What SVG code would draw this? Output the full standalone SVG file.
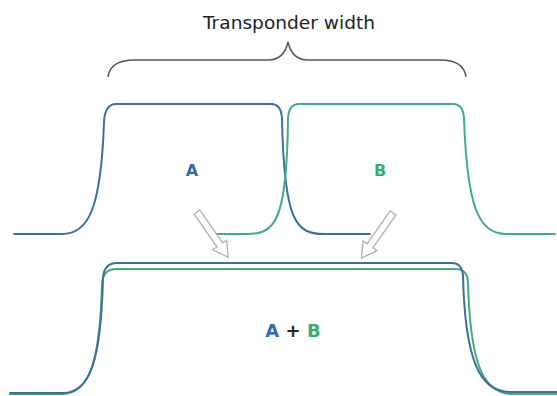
<svg xmlns="http://www.w3.org/2000/svg" width="557" height="396" viewBox="0 0 557 396">
<style>
.c{fill:none;stroke-width:2;stroke-linejoin:round;stroke-linecap:round}
.blue{stroke:#3f6f9c}
.green{stroke:#3fae7c}
.arrow{fill:#fff;stroke:#b0b0b0;stroke-width:1.3}
.lbl{font-family:"DejaVu Sans",sans-serif;font-weight:bold}
</style>
<defs>
<path id="blk" d="M0,-3.5 L40,-3.5 L40,-8.5 L55,0 L40,8.5 L40,3.5 L0,3.5 Z"/>
</defs>
<rect width="557" height="396" fill="#fff"/>
<g id="title">
<text x="289" y="29" text-anchor="middle" font-family="DejaVu Sans, sans-serif" font-size="17" textLength="172" lengthAdjust="spacingAndGlyphs" fill="#222">Transponder width</text>
</g>
<g id="brace">
<path d="M108,77 Q110,60 135,60 L268,60 Q284,60 288,42 Q292,60 308,60 L440,60 Q464,60 466,77" fill="none" stroke="#555" stroke-width="1.5"/>
</g>
<g id="curveA">
<path class="c blue" d="M14,234 L62,234 C88,234 101,210 104,122 Q105,104 116,104 L271,104 Q281,104 282,118 C284,222 296,234 324,234 L370,234"/>
<text class="lbl" x="192" y="176" text-anchor="middle" font-size="16" fill="#2e6db0">A</text>
</g>
<g id="curveB">
<path class="c green" d="M216,234 L247,234 C275,234 287,222 288,118 Q289,104 299,104 L453,104 Q463,104 464,118 C467,205 478,234 506,234 L555,234"/>
<text class="lbl" x="380" y="176" text-anchor="middle" font-size="16" fill="#3aac6e">B</text>
</g>
<g id="sum">
<path class="c green" d="M10,394 L62,394 C90,394 100,360 102,284 Q103,269 116,269 L456,269 Q467,269 468,282 C470,360 482,394 512,394 L557,394"/>
<path class="c blue" d="M10,393 L63,393 C91,393 101,358 103,278 Q104,263 117,263 L452,263 Q462,263 463,276 C465,358 479,392 510,392 L557,392"/>
<text class="lbl" x="293" y="337" text-anchor="middle" font-size="18"><tspan fill="#2e6db0">A</tspan><tspan fill="#222"> + </tspan><tspan fill="#3aac6e">B</tspan></text>
</g>
<g id="connectors">
<use href="#blk" class="arrow" transform="translate(197,212) rotate(55.4)"/>
<use href="#blk" class="arrow" transform="translate(393,213) rotate(125)"/>
</g>
</svg>
